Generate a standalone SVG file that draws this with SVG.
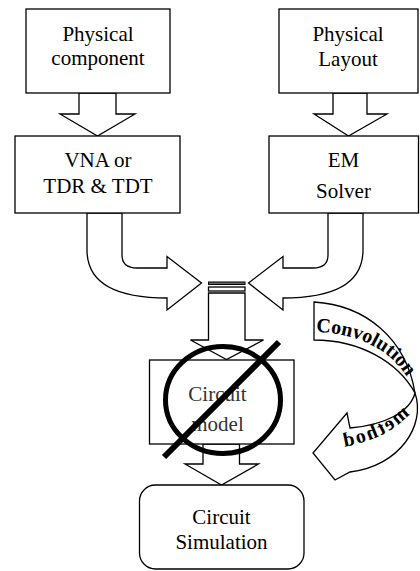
<svg xmlns="http://www.w3.org/2000/svg" width="420" height="571" viewBox="0 0 420 571">
<defs>
<style>
.box{fill:#fff;stroke:#000;stroke-width:1.3}
.arr{fill:#fff;stroke:#000;stroke-width:1.3;stroke-linejoin:miter}
.t{font-family:"Liberation Serif","Times New Roman",serif;font-size:21px;fill:#000;text-anchor:middle}
.b{font-family:"Liberation Serif","Times New Roman",serif;font-weight:bold;font-size:20px;fill:#000}
.no{fill:none;stroke:#000;stroke-width:5}
</style>
<path id="convPath" d="M316,332 C360,333 399,352 414,392"/>
<path id="methPath" d="M330,414 Q358,444 412,449"/>
</defs>
<rect width="420" height="571" fill="#fff"/>

<g id="connectors">
  <path class="arr" d="M79,93 V114 H60 L97.5,136 L135,114 H116 V93 Z"/>
  <path class="arr" d="M333,93 V114 H314 L348.5,136 L387,114 H367 V93 Z"/>
  <path class="arr" d="M87,213 V250 C87,285 120,298 167,298 V310 L201.5,283 L167,256.5 V268 H137 Q122,268 122,255 V213 Z"/>
  <path class="arr" d="M363,213 V250 C363,285 330,298 283,298 V310 L248.5,283 L283,256.5 V268 H313 Q328,268 328,255 V213 Z"/>
  <rect x="208.5" y="282" width="36.5" height="2.5" fill="#666" stroke="#000" stroke-width="1"/>
  <rect x="208.5" y="287" width="36.5" height="4" fill="#fff" stroke="#000" stroke-width="1.3"/>
  <path class="arr" d="M208.5,293 V340 H190.5 L226.5,359.5 L263.5,340 H245 V293 Z"/>
  <path class="arr" d="M203,444 V464 H185 L221.5,485 L258.5,464 H239.5 V444 Z"/>
  <g id="convolution-method">
    <path class="arr" d="M314,302 C365,305 406,338 415,393 C398,362 360,340 314,340 Z"/>
    <path class="arr" d="M415,393 C426,425 400,466 350,472 L335,480 L313,453 L347,413 L350,428 C385,425 410,412 415,393 Z"/>
    <text class="b"><textPath href="#convPath">Convolution</textPath></text>
    <g transform="matrix(-1,0,0,1,740,0)">
      <text class="b" font-size="21" letter-spacing="2"><textPath href="#methPath">method</textPath></text>
    </g>
  </g>
</g>

<g id="physical-component">
  <rect class="box" x="26" y="9" width="144" height="84"/>
  <text class="t" x="98" y="41">Physical</text>
  <text class="t" x="98" y="65">component</text>
</g>
<g id="physical-layout">
  <rect class="box" x="279" y="9" width="139" height="84"/>
  <text class="t" x="348" y="41">Physical</text>
  <text class="t" x="348" y="65.5">Layout</text>
</g>
<g id="vna">
  <rect class="box" x="15" y="136" width="165" height="77"/>
  <text class="t" x="98" y="167">VNA or</text>
  <text class="t" x="98" y="193">TDR &amp; TDT</text>
</g>
<g id="em-solver">
  <rect class="box" x="269" y="136" width="149.5" height="77"/>
  <text class="t" x="343.5" y="167">EM</text>
  <text class="t" x="343.5" y="198">Solver</text>
</g>
<g id="circuit-model">
  <rect class="box" x="149.5" y="360" width="144.5" height="84"/>
  <text class="t" x="217.5" y="401" style="fill:#333">Circuit</text>
  <text class="t" x="217.5" y="431" style="fill:#333">model</text>
  <ellipse class="no" cx="223" cy="400" rx="57.5" ry="53.5"/>
  <line x1="279" y1="342" x2="164" y2="457" stroke="#000" stroke-width="6"/>
</g>
<g id="circuit-simulation">
  <rect class="box" x="139.5" y="485" width="164.5" height="84" rx="16" ry="16"/>
  <text class="t" x="221.5" y="524">Circuit</text>
  <text class="t" x="221.5" y="549">Simulation</text>
</g>
</svg>
